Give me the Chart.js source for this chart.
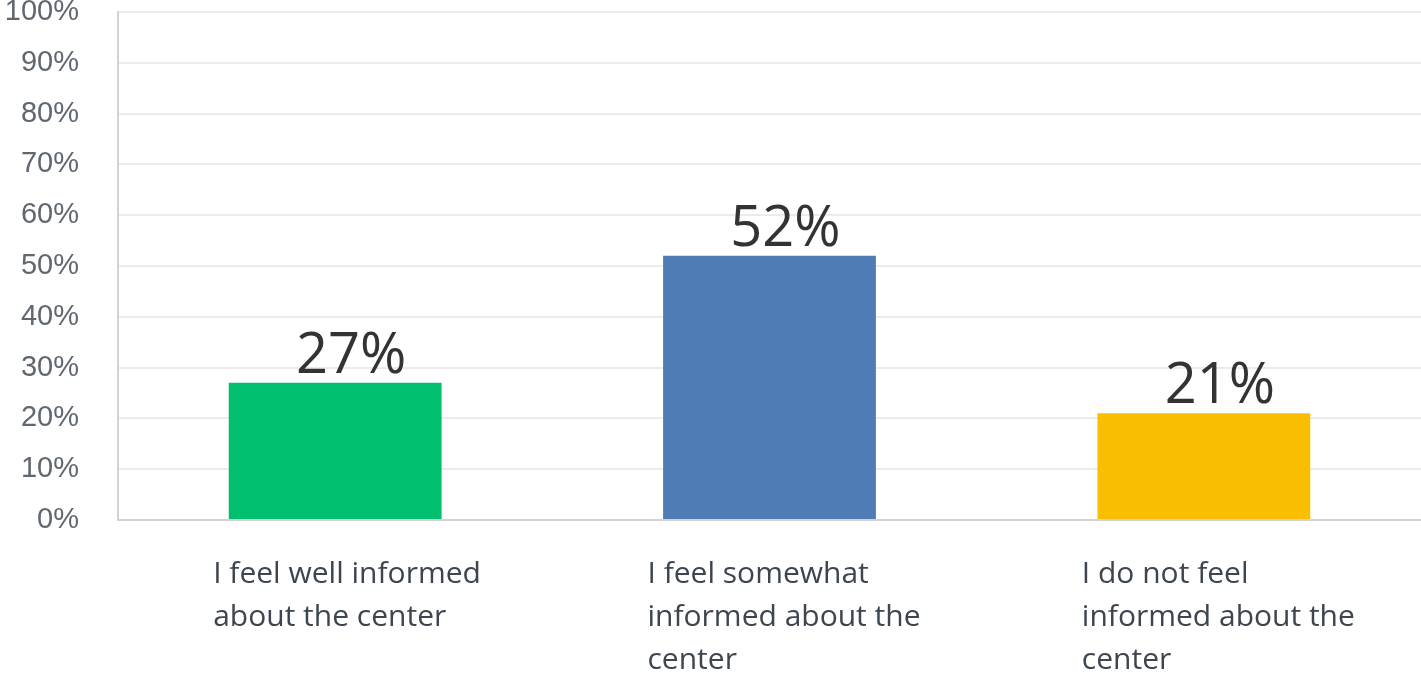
<!DOCTYPE html>
<html>
<head>
<meta charset="utf-8">
<script src="https://cdn.jsdelivr.net/npm/chart.js@4/dist/chart.umd.min.js"></script>
<style>
  html, body { margin: 0; padding: 0; background: #fff; overflow: hidden; }
  #wrap { width: 1421px; height: 674px; position: relative; }
</style>
</head>
<body>
<div id="wrap"><canvas id="c"></canvas></div>
<script>
// Survey answers and their share of respondents
const categories = [
  ["I feel well informed", "about the center"],
  ["I feel somewhat", "informed about the", "center"],
  ["I do not feel", "informed about the", "center"]
];
const shares = [27, 52, 21];
const barColors = ["#00bf6f", "#507cb6", "#f9be00"];
const yTicks = [0, 10, 20, 30, 40, 50, 60, 70, 80, 90, 100];

// Percentage labels drawn above each bar
const valueLabels = {
  id: "valueLabels",
  afterDatasetsDraw(chart) {
    const ctx = chart.ctx;
    const meta = chart.getDatasetMeta(0);
    ctx.save();
    ctx.font = "56px 'Open Sans', sans-serif";
    ctx.fillStyle = "#333333";
    ctx.textAlign = "center";
    ctx.textBaseline = "alphabetic";
    meta.data.forEach((bar, i) => {
      ctx.fillText(shares[i] + "%", bar.x + 16, bar.y - 10);
    });
    ctx.restore();
  }
};

// Keep the plot area flush with the canvas edges
function noEdgePadding(scale) {
  scale.paddingLeft = 0;
  scale.paddingRight = 0;
  scale.paddingTop = 0;
  scale.paddingBottom = 0;
}

new Chart(document.getElementById("c"), {
  type: "bar",
  data: {
    labels: categories,
    datasets: [{
      data: shares,
      backgroundColor: barColors,
      borderWidth: 0,
      categoryPercentage: 1,
      barPercentage: 0.49
    }]
  },
  options: {
    responsive: true,
    maintainAspectRatio: false,
    animation: false,
    layout: { padding: { top: 12, right: 0, left: 0, bottom: 0 } },
    plugins: { legend: { display: false }, tooltip: { enabled: false } },
    scales: {
      x: {
        grid: { display: false, drawTicks: false },
        border: { display: true, color: "#d3d3d3", width: 2 },
        ticks: {
          color: "#3d4650",
          font: { family: "'Open Sans', sans-serif", size: 30, lineHeight: 1.43 },
          padding: 33,
          align: "start",
          labelOffset: -122,
          maxRotation: 0,
          minRotation: 0,
          autoSkip: false
        },
        afterFit(scale) { scale.height = 154; noEdgePadding(scale); }
      },
      y: {
        min: 0,
        max: 100,
        afterBuildTicks(scale) { scale.ticks = yTicks.map(v => ({ value: v })); },
        grid: { color: "#ebebeb", lineWidth: 2, drawTicks: false },
        border: { display: true, color: "#d3d3d3", width: 2 },
        ticks: {
          color: "#5f6770",
          font: { family: "'Liberation Sans', sans-serif", size: 29 },
          padding: 39,
          callback: v => v + "%"
        },
        afterFit(scale) { scale.width = 118; noEdgePadding(scale); }
      }
    }
  },
  plugins: [valueLabels]
});
</script>
</body>
</html>
